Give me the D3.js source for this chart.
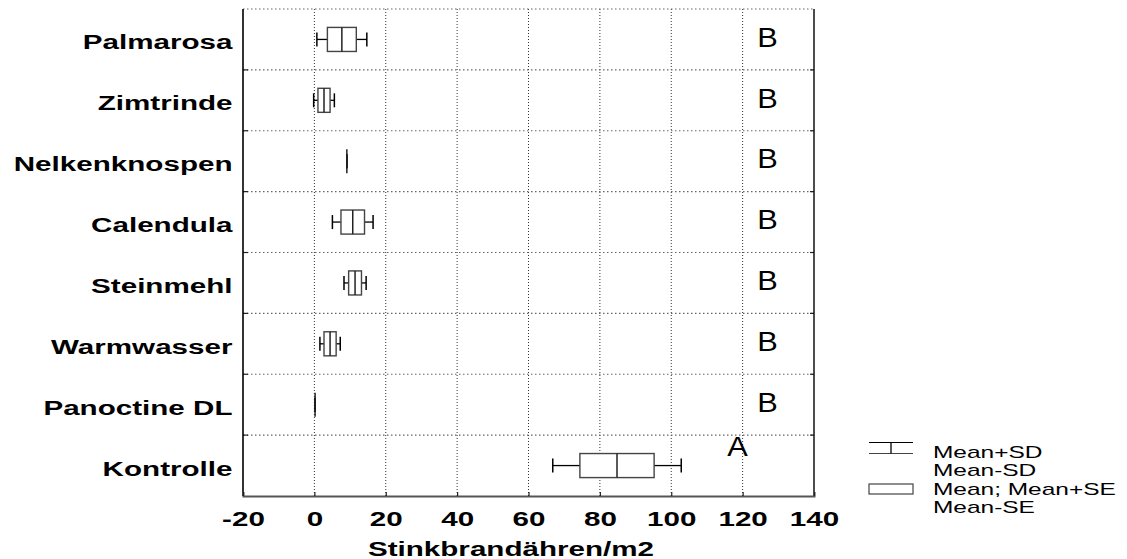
<!DOCTYPE html>
<html>
<head>
<meta charset="utf-8">
<script src="https://cdn.jsdelivr.net/npm/d3@7"></script>
<style>
  html, body { margin: 0; padding: 0; background: #fff; }
  svg { display: block; font-family: "Liberation Sans", Arial, sans-serif; }
</style>
</head>
<body>
<svg id="chart" width="1127" height="559"></svg>
<script>
// Treatments (top to bottom)
const categories = ["Palmarosa", "Zimtrinde", "Nelkenknospen", "Calendula",
                    "Steinmehl", "Warmwasser", "Panoctine DL", "Kontrolle"];
// Mean, standard error and standard deviation of smut ears per m²
const means = [7.7, 2.7, 9.1, 10.75, 11.4, 4.4, 0.2, 84.8];
const se    = [4.05, 1.7, 0, 3.3, 1.8, 1.7, 0, 10.4];
const sd    = [7.0, 2.9, 0, 5.7, 3.1, 2.85, 0, 18.0];
// Significance groups and where they are written (x in data units, y as band fraction)
const groups     = ["B", "B", "B", "B", "B", "B", "B", "A"];
const groupX     = [127, 127, 127, 127, 127, 127, 127, 118.6];
const groupBandY = [0.62, 0.62, 0.62, 0.62, 0.62, 0.62, 0.62, 0.335];
// Axis ticks and labels
const xTicks = [-20, 0, 20, 40, 60, 80, 100, 120, 140];
const xTitle = "Stinkbrandähren/m2";
const legendLabels = ["Mean+SD", "Mean-SD", "Mean; Mean+SE", "Mean-SE"];

const svg = d3.select("#chart");
const plotL = 243, plotR = 814, plotT = 9, plotB = 496;
const sxLabel = 1.41;   // wide lettering of the axis labels

const x = d3.scaleLinear().domain([-20, 140]).range([plotL, plotR]);
const y = d3.scaleBand().domain(categories).range([plotT, plotB]).padding(0);
const bw = y.bandwidth();

// grid: vertical dotted lines at x ticks
const grid = svg.append("g");
grid.selectAll("line.v")
  .data(xTicks.filter(t => t > -20 && t < 140))
  .join("line")
  .attr("class", "v")
  .attr("x1", d => x(d)).attr("x2", d => x(d))
  .attr("y1", plotT).attr("y2", plotB)
  .attr("stroke", "#333").attr("stroke-width", 1)
  .attr("stroke-dasharray", "1,2");
// horizontal dotted lines at band boundaries
grid.selectAll("line.h")
  .data(categories)
  .join("line")
  .attr("class", "h")
  .attr("x1", plotL).attr("x2", plotR)
  .attr("y1", d => y(d)).attr("y2", d => y(d))
  .attr("stroke", "#666").attr("stroke-width", 1.2)
  .attr("stroke-dasharray", "1.5,2.5");

// small inner ticks at band boundaries on both sides
const boundaries = categories.slice(1).map(d => y(d));
svg.append("g").selectAll("line")
  .data(boundaries)
  .join("line")
  .attr("x1", plotL).attr("x2", plotL + 5)
  .attr("y1", d => d).attr("y2", d => d)
  .attr("stroke", "#222").attr("stroke-width", 1.2);
svg.append("g").selectAll("line")
  .data(boundaries)
  .join("line")
  .attr("x1", plotR - 4).attr("x2", plotR)
  .attr("y1", d => d).attr("y2", d => d)
  .attr("stroke", "#222").attr("stroke-width", 1.2);

// frame
svg.append("line").attr("x1", plotL).attr("x2", plotL).attr("y1", plotT).attr("y2", plotB)
  .attr("stroke", "#000").attr("stroke-width", 1.6);
svg.append("line").attr("x1", plotR).attr("x2", plotR).attr("y1", plotT).attr("y2", plotB)
  .attr("stroke", "#000").attr("stroke-width", 1.4);

// x axis
const xAxis = svg.append("g")
  .attr("transform", `translate(0,${plotB})`)
  .call(d3.axisBottom(x).tickValues(xTicks).tickSize(-4).tickFormat(d => String(d)));
xAxis.select(".domain").attr("stroke", "#555").attr("stroke-width", 2);
xAxis.selectAll(".tick line").attr("stroke", "#222").attr("stroke-width", 1.2);
xAxis.selectAll(".tick text")
  .attr("y", 30).attr("dy", 0)
  .attr("fill", "#000")
  .style("font-family", "'Liberation Sans', Arial, sans-serif")
  .style("font-size", "21px").style("font-weight", "bold")
  .attr("transform", `scale(${sxLabel},1)`);

// y axis (category labels)
const yAxis = svg.append("g")
  .attr("transform", `translate(${plotL},0)`)
  .call(d3.axisLeft(y).tickSize(0));
yAxis.select(".domain").remove();
yAxis.selectAll(".tick text")
  .attr("x", -10.5 / sxLabel).attr("dy", 0).attr("y", 10)
  .attr("fill", "#000")
  .style("font-family", "'Liberation Sans', Arial, sans-serif")
  .style("font-size", "21px").style("font-weight", "bold")
  .attr("transform", `scale(${sxLabel},1)`);

// x axis title
svg.append("text")
  .attr("transform", `translate(511,556) scale(${sxLabel},1)`)
  .attr("text-anchor", "middle")
  .style("font-size", "21px").style("font-weight", "bold")
  .text(xTitle);

// box-and-whisker marks
const rows = categories.map((c, i) => ({ c, m: means[i], se: se[i], sd: sd[i] }));
const boxH = bw * 0.395, capH = bw * 0.23;
const marks = svg.append("g").selectAll("g")
  .data(rows)
  .join("g")
  .attr("transform", d => `translate(0,${y(d.c) + bw / 2})`);

// whiskers
marks.append("line")
  .attr("x1", d => x(d.m - d.sd)).attr("x2", d => x(d.m - d.se))
  .attr("stroke", "#000").attr("stroke-width", 1.3);
marks.append("line")
  .attr("x1", d => x(d.m + d.se)).attr("x2", d => x(d.m + d.sd))
  .attr("stroke", "#000").attr("stroke-width", 1.3);
marks.append("line")
  .attr("x1", d => x(d.m - d.sd)).attr("x2", d => x(d.m - d.sd))
  .attr("y1", -capH / 2).attr("y2", capH / 2)
  .attr("stroke", "#000").attr("stroke-width", 1.5);
marks.append("line")
  .attr("x1", d => x(d.m + d.sd)).attr("x2", d => x(d.m + d.sd))
  .attr("y1", -capH / 2).attr("y2", capH / 2)
  .attr("stroke", "#000").attr("stroke-width", 1.5);
// SE box
marks.filter(d => d.se > 0).append("rect")
  .attr("x", d => x(d.m - d.se)).attr("width", d => x(d.m + d.se) - x(d.m - d.se))
  .attr("y", -boxH / 2).attr("height", boxH)
  .attr("fill", "#fff").attr("stroke", "#444").attr("stroke-width", 1.4);
// mean line
marks.append("line")
  .attr("x1", d => x(d.m)).attr("x2", d => x(d.m))
  .attr("y1", -boxH / 2).attr("y2", boxH / 2)
  .attr("stroke", "#222").attr("stroke-width", 1.5);

// group letters
svg.append("g").selectAll("text")
  .data(groups)
  .join("text")
  .attr("transform", (d, i) => `translate(${x(groupX[i])},${y(categories[i]) + bw * groupBandY[i]}) scale(1.1,1)`)
  .attr("text-anchor", "middle")
  .style("font-size", "28px")
  .text(d => d);

// legend
const lg = svg.append("g");
lg.append("line").attr("x1", 869).attr("x2", 913).attr("y1", 442.5).attr("y2", 442.5)
  .attr("stroke", "#000").attr("stroke-width", 1.2);
lg.append("line").attr("x1", 869).attr("x2", 913).attr("y1", 453.5).attr("y2", 453.5)
  .attr("stroke", "#444").attr("stroke-width", 1);
lg.append("line").attr("x1", 891).attr("x2", 891).attr("y1", 442.5).attr("y2", 453.5)
  .attr("stroke", "#000").attr("stroke-width", 1.3);
lg.append("rect").attr("x", 869).attr("y", 484).attr("width", 44).attr("height", 10)
  .attr("fill", "#fff").attr("stroke", "#444").attr("stroke-width", 1.2);
const legendBase = [458, 476, 495, 513];
lg.selectAll("text")
  .data(legendLabels)
  .join("text")
  .attr("transform", (d, i) => `translate(933,${legendBase[i]}) scale(1.53,1)`)
  .style("font-size", "16px")
  .text(d => d);
</script>
</body>
</html>
